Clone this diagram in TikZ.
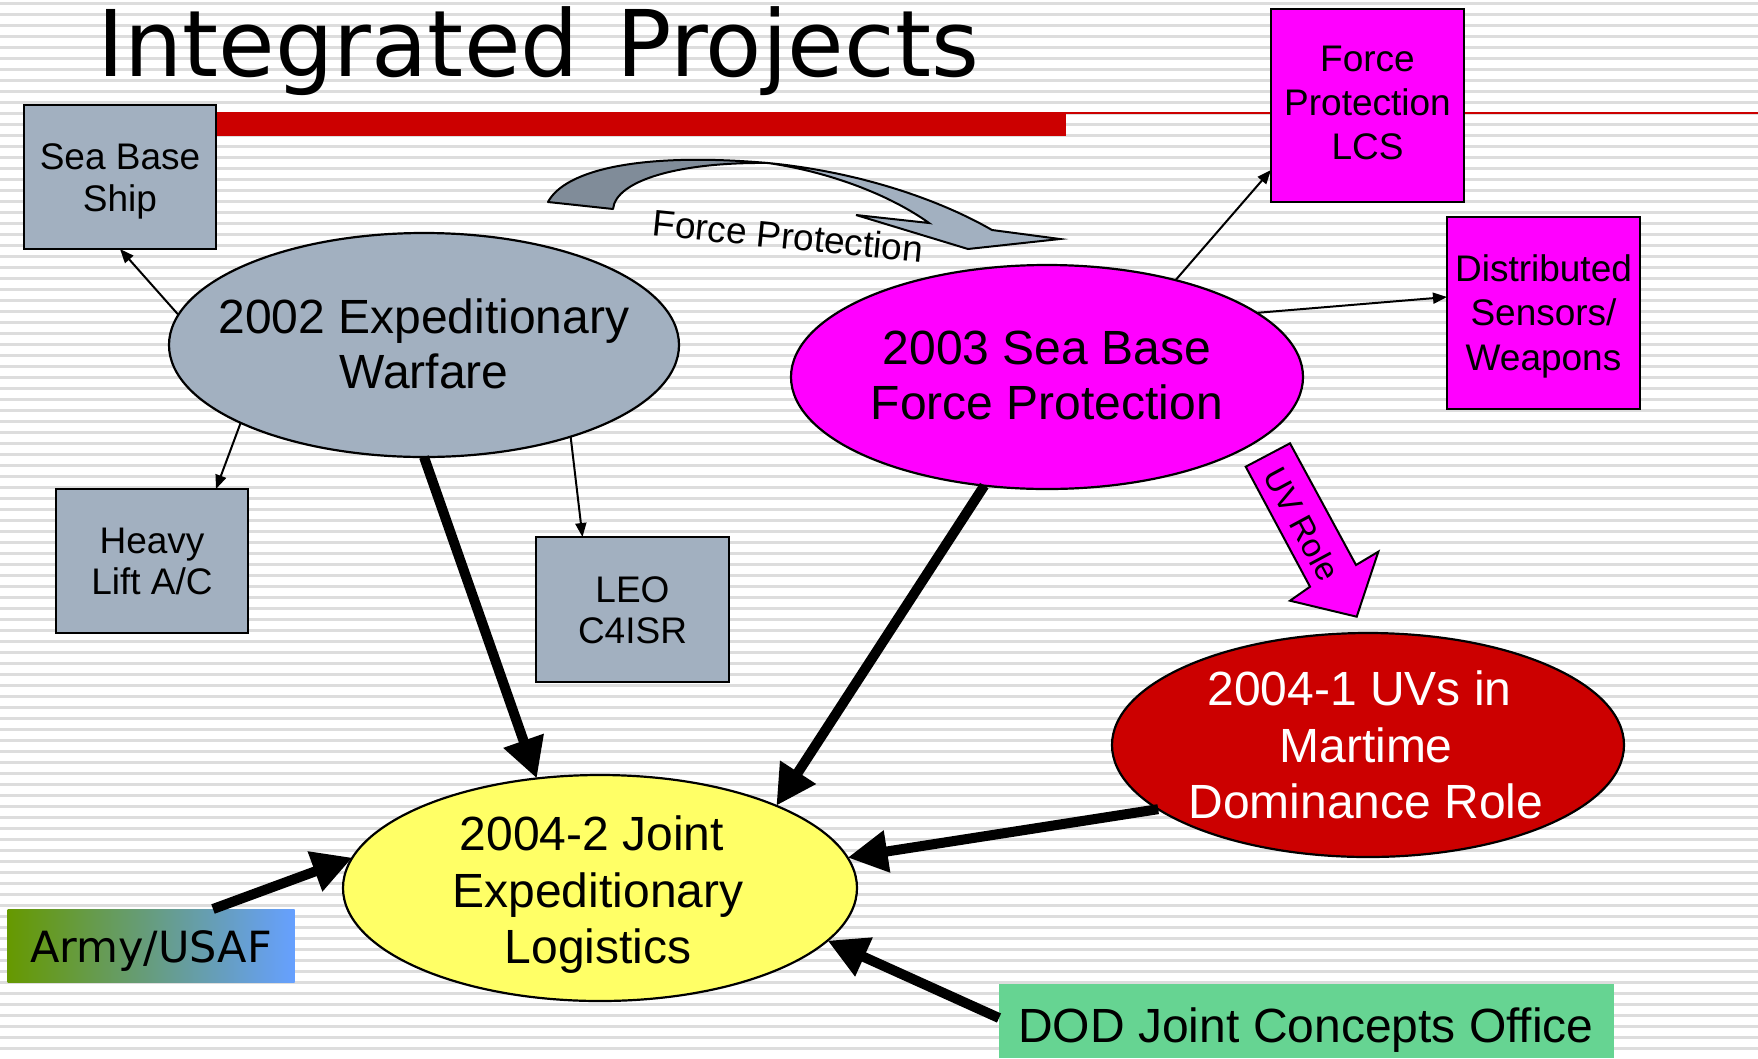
\documentclass[tikz,border=0pt]{standalone}
\usepackage{fontspec}
\setmainfont{Liberation Sans}
\newfontfamily\dejavu{DejaVu Sans}
\usetikzlibrary{shapes.geometric,arrows.meta}

\definecolor{boxgray}{RGB}{162,176,192}
\definecolor{darkgraytwo}{RGB}{128,140,153}
\definecolor{mag}{RGB}{255,0,255}
\definecolor{redE}{RGB}{204,0,0}
\definecolor{yel}{RGB}{255,255,102}
\definecolor{dodgreen}{RGB}{102,212,146}
\definecolor{stripecol}{RGB}{221,221,221}
\definecolor{barred}{RGB}{204,0,0}
\definecolor{armyL}{RGB}{102,153,0}
\definecolor{armyR}{RGB}{102,160,255}

\begin{document}
\begin{tikzpicture}[x=1pt,y=-1pt,
  sq/.style={draw=black, line width=2.2pt, inner sep=0pt, outer sep=0pt},
  ell/.style={ellipse, draw=black, line width=2.2pt, inner sep=0pt, outer sep=0pt},
  thinarrow/.style={line width=2pt, -{Triangle[length=14pt,width=11pt]}},
  thickarrow/.style={line width=10pt, -{Triangle[length=40pt,width=40pt]}},
  boxtxt/.style={inner sep=0pt, align=center},
  elltxt/.style={inner sep=0pt, align=center},
]
\useasboundingbox (0,0) rectangle (1758,1058);
\fill[white] (0,0) rectangle (1758,1058);
% stripes
\foreach \i in {0,...,95} {
  \draw[stripecol, line width=2.5pt] (0,{3.3+11*\i}) -- (1758,{3.3+11*\i});
}
% red bar
\draw[barred, line width=2pt] (1066,113) -- (1758,113);
\fill[barred] (200,112) rectangle (1066,136);

% title
\node[anchor=base west, inner sep=0pt, font=\dejavu\fontsize{92}{92}\selectfont] (title) at (97,76) {Integrated\kern8pt{} Projects};

% curved arrow "Force Protection"
\draw[fill=darkgraytwo, line width=2pt, line join=round]
  (548,202) .. controls (565,170) and (640,152) .. (768,163)
  .. controls (680,162) and (616,180) .. (613,209) -- cycle;
\draw[fill=boxgray, line width=2pt, line join=miter]
  (768,163) .. controls (860,172) and (940,200) .. (992,230)
  -- (1060,239) -- (968,249) -- (856,215) -- (929,223)
  .. controls (890,195) and (830,172) .. (768,163) -- cycle;
\node[rotate=-5.8, inner sep=0pt, font=\fontsize{37}{37}\selectfont] (fptxt) at (788,236) {Force Protection};

% boxes
\node[sq, fill=boxgray, minimum width=192pt, minimum height=144pt] (sbs) at (120,177) {};
\node[boxtxt, font=\fontsize{37}{42}\selectfont] (sbstxt) at (120,181.6) {Sea Base\\Ship};

\node[sq, fill=boxgray, minimum width=192pt, minimum height=144pt] (heavy) at (152,561) {};
\node[boxtxt, font=\fontsize{37}{41}\selectfont] (heavytxt) at (152,561.5) {Heavy\\Lift A/C};

\node[sq, fill=boxgray, minimum width=193pt, minimum height=145pt] (leo) at (632.5,609.5) {};
\node[boxtxt, font=\fontsize{37}{41}\selectfont] (leotxt) at (632.5,609.8) {LEO\\C4ISR};

\node[sq, fill=mag, minimum width=193pt, minimum height=193pt] (fplcs) at (1367.5,105.5) {};
\node[boxtxt, font=\fontsize{37}{44}\selectfont] (fplcstxt) at (1367.5,103.3) {Force\\Protection\\LCS};

\node[sq, fill=mag, minimum width=193pt, minimum height=192pt] (dist) at (1543.5,313) {};
\node[boxtxt, font=\fontsize{37}{44.5}\selectfont] (disttxt) at (1543.5,316) {Distributed\\Sensors/\\Weapons};

\node[inner sep=0pt, outer sep=0pt, minimum width=287pt, minimum height=73pt, left color=armyL, right color=armyR] (army) at (151,945.5) {};
\node[anchor=base, inner sep=0pt, font=\dejavu\fontsize{43}{43}\selectfont] (armytxt) at (151,962) {Army/USAF};

\node[inner sep=0pt, outer sep=0pt, fill=dodgreen, minimum width=615pt, minimum height=74pt] (dod) at (1306.5,1021) {};
\node[anchor=base, inner sep=0pt, font=\fontsize{48}{48}\selectfont] (dodtxt) at (1306,1042) {DOD Joint Concepts Office};

% ellipses
\node[ell, fill=boxgray, minimum width=510pt, minimum height=224pt] (e1) at (424,345) {};
\node[elltxt, font=\fontsize{48}{55}\selectfont] (e1txt) at (424,344) {2002 Expeditionary\\Warfare};

\node[ell, fill=mag, minimum width=512pt, minimum height=224pt] (e2) at (1047,377) {};
\node[elltxt, font=\fontsize{48}{55}\selectfont] (e2txt) at (1047,375) {2003 Sea Base\\Force Protection};

\node[ell, fill=redE, minimum width=512pt, minimum height=224pt] (e3) at (1368,745) {};
\node[elltxt, text=white, font=\fontsize{48}{56.5}\selectfont] (e3txt) at (1366,745) {2004-1 UVs in\hspace*{13pt}\\Martime\\Dominance Role};

\node[ell, fill=yel, minimum width=514pt, minimum height=226pt] (e4) at (600,888) {};
\node[elltxt, font=\fontsize{48}{56.5}\selectfont] (e4txt) at (598,895) {2004-2 Joint\hspace*{12pt}\\Expeditionary\\Logistics};

% UV Role block arrow
\draw[fill=mag, line width=2pt, line join=miter]
  (1245.7,466.7) -- (1290,443.3) -- (1356,565) -- (1378.3,551.7)
  -- (1356.7,616.7) -- (1290,600.7) -- (1310,586.7) -- cycle;
\node[rotate=-61.7, inner sep=0pt, font=\fontsize{33}{33}\selectfont] (uvtxt) at (1302,524) {UV Role};

% thin connectors
\draw[thinarrow] (e1.173) -- (sbs.south);
\draw[thinarrow] (e1.203) -- ([xshift=64pt]heavy.north);
\draw[thinarrow] (e1.328) -- ([xshift=-50pt]leo.north);
\draw[thinarrow] (e2.37) -- ([yshift=-64.5pt]fplcs.west);
\draw[thinarrow] (e2.17) -- ([yshift=16pt]dist.west);

% thick connectors
\draw[thickarrow] (e1.south) -- (e4.120);
\draw[thickarrow] (e2.240) -- (e4.25);
\draw[thickarrow] (e3.197) -- (e4.7);
\draw[thickarrow] ([xshift=62pt]army.north) -- (e4.173);
\draw[thickarrow] ([yshift=3pt]dod.west) -- (e4.347);
\end{tikzpicture}
\end{document}
